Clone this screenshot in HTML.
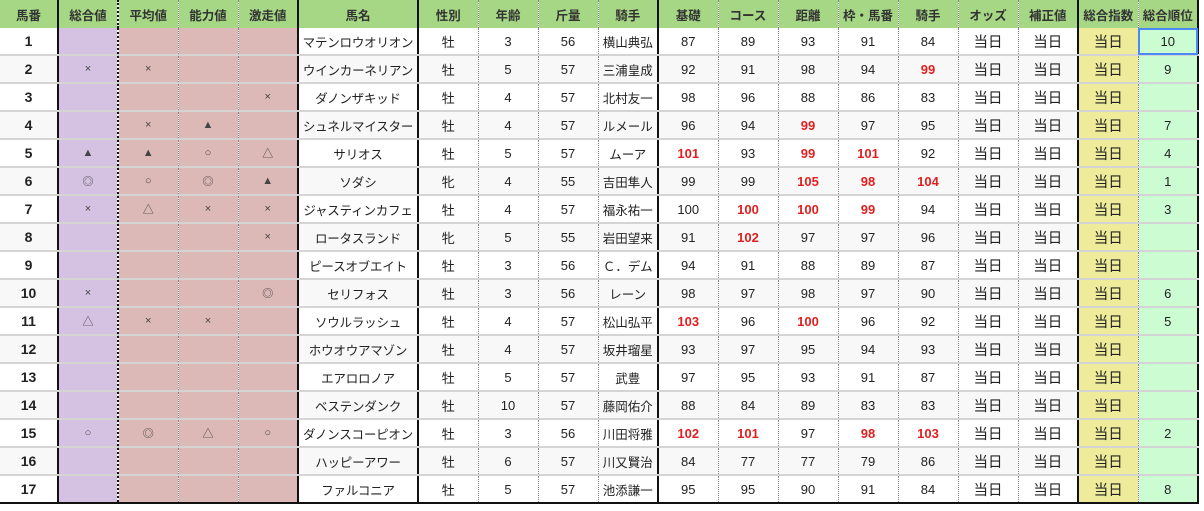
<!DOCTYPE html><html><head><meta charset="utf-8"><style>
body{margin:0;background:#fff;font-family:"Liberation Sans","Noto Sans CJK JP",sans-serif;}
table{position:absolute;left:0;top:0;border-collapse:collapse;table-layout:fixed;width:1198px;}
td,th{height:26px;padding:0;text-align:center;font-size:13px;color:#222;border-bottom:2px solid #d4d4d4;border-left:1px dotted #888;overflow:hidden;white-space:nowrap;}
th{background:#a6d785;font-size:12.5px;font-weight:bold;color:#333;border-bottom:none;height:28px;}
tr:nth-child(odd) td{background:#f8f8f8}
tr:nth-child(even) td{background:#fff}
td:nth-child(1),th:nth-child(1){font-weight:bold;border-left:none;font-size:14px}
td:nth-child(1){font-size:14px}
th:nth-child(1){font-size:12.5px}
td:nth-child(2),th:nth-child(2),td:nth-child(6),th:nth-child(6),td:nth-child(7),th:nth-child(7),td:nth-child(11),th:nth-child(11),td:nth-child(18),th:nth-child(18){border-left:2px solid #111}
td:nth-child(3),th:nth-child(3){border-left:2px dotted #111}
tr td:nth-child(2){background:#d5c2e3}
tr td:nth-child(3),tr td:nth-child(4),tr td:nth-child(5){background:#dcb8b6}
tr td:nth-child(18){background:#eeec9a}
tr td:nth-child(19){background:#ccfdd2;border-right:2px solid #111}
th:nth-child(19){border-right:2px solid #111}
td:nth-child(n+2):nth-child(-n+5){font-size:11px;color:#444}
td:nth-child(6){font-size:12.5px;letter-spacing:-0.2px}
td:nth-child(10){font-size:12.5px}
td:nth-child(n+16):nth-child(-n+18){font-size:14.5px}
tr:last-child td{border-bottom:2px solid #111}
.r{color:#e02020;font-weight:bold}
.sel{outline:2px solid #4a8af4;outline-offset:-2px}
</style></head><body>
<table>
<colgroup><col style="width:58px"><col style="width:60px"><col style="width:60px"><col style="width:60px"><col style="width:60px"><col style="width:120px"><col style="width:60px"><col style="width:60px"><col style="width:60px"><col style="width:60px"><col style="width:60px"><col style="width:60px"><col style="width:60px"><col style="width:60px"><col style="width:60px"><col style="width:60px"><col style="width:60px"><col style="width:60px"><col style="width:60px"></colgroup>
<tr><th>馬番</th><th>総合値</th><th>平均値</th><th>能力値</th><th>激走値</th><th>馬名</th><th>性別</th><th>年齢</th><th>斤量</th><th>騎手</th><th>基礎</th><th>コース</th><th>距離</th><th>枠・馬番</th><th>騎手</th><th>オッズ</th><th>補正値</th><th>総合指数</th><th>総合順位</th></tr>
<tr><td>1</td><td></td><td></td><td></td><td></td><td>マテンロウオリオン</td><td>牡</td><td>3</td><td>56</td><td>横山典弘</td><td>87</td><td>89</td><td>93</td><td>91</td><td>84</td><td>当日</td><td>当日</td><td>当日</td><td class="sel">10</td></tr>
<tr><td>2</td><td>×</td><td>×</td><td></td><td></td><td>ウインカーネリアン</td><td>牡</td><td>5</td><td>57</td><td>三浦皇成</td><td>92</td><td>91</td><td>98</td><td>94</td><td class="r">99</td><td>当日</td><td>当日</td><td>当日</td><td>9</td></tr>
<tr><td>3</td><td></td><td></td><td></td><td>×</td><td>ダノンザキッド</td><td>牡</td><td>4</td><td>57</td><td>北村友一</td><td>98</td><td>96</td><td>88</td><td>86</td><td>83</td><td>当日</td><td>当日</td><td>当日</td><td></td></tr>
<tr><td>4</td><td></td><td>×</td><td>▲</td><td></td><td>シュネルマイスター</td><td>牡</td><td>4</td><td>57</td><td>ルメール</td><td>96</td><td>94</td><td class="r">99</td><td>97</td><td>95</td><td>当日</td><td>当日</td><td>当日</td><td>7</td></tr>
<tr><td>5</td><td>▲</td><td>▲</td><td>○</td><td>△</td><td>サリオス</td><td>牡</td><td>5</td><td>57</td><td>ムーア</td><td class="r">101</td><td>93</td><td class="r">99</td><td class="r">101</td><td>92</td><td>当日</td><td>当日</td><td>当日</td><td>4</td></tr>
<tr><td>6</td><td>◎</td><td>○</td><td>◎</td><td>▲</td><td>ソダシ</td><td>牝</td><td>4</td><td>55</td><td>吉田隼人</td><td>99</td><td>99</td><td class="r">105</td><td class="r">98</td><td class="r">104</td><td>当日</td><td>当日</td><td>当日</td><td>1</td></tr>
<tr><td>7</td><td>×</td><td>△</td><td>×</td><td>×</td><td>ジャスティンカフェ</td><td>牡</td><td>4</td><td>57</td><td>福永祐一</td><td>100</td><td class="r">100</td><td class="r">100</td><td class="r">99</td><td>94</td><td>当日</td><td>当日</td><td>当日</td><td>3</td></tr>
<tr><td>8</td><td></td><td></td><td></td><td>×</td><td>ロータスランド</td><td>牝</td><td>5</td><td>55</td><td>岩田望来</td><td>91</td><td class="r">102</td><td>97</td><td>97</td><td>96</td><td>当日</td><td>当日</td><td>当日</td><td></td></tr>
<tr><td>9</td><td></td><td></td><td></td><td></td><td>ピースオブエイト</td><td>牡</td><td>3</td><td>56</td><td>Ｃ．デム</td><td>94</td><td>91</td><td>88</td><td>89</td><td>87</td><td>当日</td><td>当日</td><td>当日</td><td></td></tr>
<tr><td>10</td><td>×</td><td></td><td></td><td>◎</td><td>セリフォス</td><td>牡</td><td>3</td><td>56</td><td>レーン</td><td>98</td><td>97</td><td>98</td><td>97</td><td>90</td><td>当日</td><td>当日</td><td>当日</td><td>6</td></tr>
<tr><td>11</td><td>△</td><td>×</td><td>×</td><td></td><td>ソウルラッシュ</td><td>牡</td><td>4</td><td>57</td><td>松山弘平</td><td class="r">103</td><td>96</td><td class="r">100</td><td>96</td><td>92</td><td>当日</td><td>当日</td><td>当日</td><td>5</td></tr>
<tr><td>12</td><td></td><td></td><td></td><td></td><td>ホウオウアマゾン</td><td>牡</td><td>4</td><td>57</td><td>坂井瑠星</td><td>93</td><td>97</td><td>95</td><td>94</td><td>93</td><td>当日</td><td>当日</td><td>当日</td><td></td></tr>
<tr><td>13</td><td></td><td></td><td></td><td></td><td>エアロロノア</td><td>牡</td><td>5</td><td>57</td><td>武豊</td><td>97</td><td>95</td><td>93</td><td>91</td><td>87</td><td>当日</td><td>当日</td><td>当日</td><td></td></tr>
<tr><td>14</td><td></td><td></td><td></td><td></td><td>ベステンダンク</td><td>牡</td><td>10</td><td>57</td><td>藤岡佑介</td><td>88</td><td>84</td><td>89</td><td>83</td><td>83</td><td>当日</td><td>当日</td><td>当日</td><td></td></tr>
<tr><td>15</td><td>○</td><td>◎</td><td>△</td><td>○</td><td>ダノンスコーピオン</td><td>牡</td><td>3</td><td>56</td><td>川田将雅</td><td class="r">102</td><td class="r">101</td><td>97</td><td class="r">98</td><td class="r">103</td><td>当日</td><td>当日</td><td>当日</td><td>2</td></tr>
<tr><td>16</td><td></td><td></td><td></td><td></td><td>ハッピーアワー</td><td>牡</td><td>6</td><td>57</td><td>川又賢治</td><td>84</td><td>77</td><td>77</td><td>79</td><td>86</td><td>当日</td><td>当日</td><td>当日</td><td></td></tr>
<tr><td>17</td><td></td><td></td><td></td><td></td><td>ファルコニア</td><td>牡</td><td>5</td><td>57</td><td>池添謙一</td><td>95</td><td>95</td><td>90</td><td>91</td><td>84</td><td>当日</td><td>当日</td><td>当日</td><td>8</td></tr>
</table>
</body></html>
